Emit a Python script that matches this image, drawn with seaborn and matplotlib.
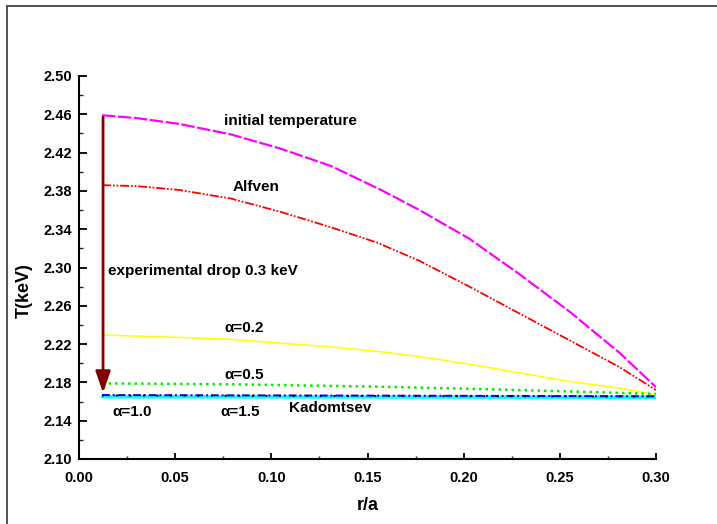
import numpy as np
import pandas as pd
import seaborn as sns
import matplotlib
matplotlib.use("Agg")
import matplotlib.pyplot as plt
from matplotlib.lines import Line2D
from matplotlib.ticker import MultipleLocator

# Radial temperature profiles after the sawtooth crash
r_init = [0.012, 0.030, 0.052, 0.079, 0.105, 0.131, 0.157, 0.177, 0.203, 0.229, 0.255, 0.281, 0.300]
t_init = [2.459, 2.456, 2.450, 2.439, 2.424, 2.406, 2.381, 2.360, 2.330, 2.293, 2.254, 2.211, 2.175]

r_alfven = [0.012, 0.030, 0.052, 0.079, 0.105, 0.131, 0.155, 0.177, 0.203, 0.229, 0.255, 0.281, 0.300]
t_alfven = [2.386, 2.385, 2.381, 2.372, 2.358, 2.342, 2.326, 2.307, 2.280, 2.252, 2.224, 2.196, 2.172]

r_a02 = [0.012, 0.052, 0.079, 0.105, 0.131, 0.157, 0.177, 0.203, 0.229, 0.255, 0.281, 0.300]
t_a02 = [2.2295, 2.227, 2.225, 2.221, 2.217, 2.212, 2.207, 2.199, 2.190, 2.181, 2.174, 2.167]

r_a05 = [0.012, 0.080, 0.157, 0.229, 0.300]
t_a05 = [2.179, 2.178, 2.1755, 2.172, 2.168]

r_a10 = [0.012, 0.150, 0.300]
t_a10 = [2.1668, 2.1662, 2.1655]

r_a15 = [0.012, 0.150, 0.300]
t_a15 = [2.1663, 2.1658, 2.1652]

r_kad = [0.012, 0.150, 0.300]
t_kad = [2.1650, 2.1648, 2.1645]

# Experimental drop indicator (start and end temperatures)
drop_r = 0.0125
drop_top = 2.457
drop_bottom = 2.169

x_ticks = [0.00, 0.05, 0.10, 0.15, 0.20, 0.25, 0.30]
y_ticks = [2.10, 2.14, 2.18, 2.22, 2.26, 2.30, 2.34, 2.38, 2.42, 2.46, 2.50]

sns.set_theme(style="white")
plt.rcParams["font.family"] = ["Liberation Sans", "DejaVu Sans"]
plt.rcParams["font.weight"] = "bold"

fig = plt.figure(figsize=(7.17, 5.24), dpi=100)
ax = fig.add_axes([79 / 717, 1 - 459 / 524, (656 - 79) / 717, (459 - 76) / 524])

series = [
    (r_init, t_init, "#FF00FF", (0, (6, 1.2)), 1.6),
    (r_alfven, t_alfven, "#FF0000", (0, (5, 1, 1, 1, 1, 1)), 1.3),
    (r_a02, t_a02, "#FFFF00", "-", 1.1),
    (r_a05, t_a05, "#00EE00", (0, (1, 1.6)), 1.8),
    (r_kad, t_kad, "#00FFFF", "-", 2.5),
    (r_a10, t_a10, "#0000FF", (0, (4, 1.5, 1, 1.5)), 1.4),
    (r_a15, t_a15, "#000000", (0, (1, 6)), 1.4),
]
for rr, tt, col, ls, lw in series:
    df = pd.DataFrame({"r": rr, "T": tt})
    sns.lineplot(data=df, x="r", y="T", ax=ax, color=col, linestyle=ls,
                 linewidth=lw, estimator=None, sort=False)

ax.annotate("", xy=(drop_r, drop_bottom), xytext=(drop_r, drop_top),
            arrowprops=dict(arrowstyle="-|>,head_width=0.45,head_length=1.3",
                            color="#800000", lw=2.0, mutation_scale=10,
                            shrinkA=0, shrinkB=0))

txt = dict(fontsize=11, fontweight="bold", color="black", va="center", ha="left")
ax.text(0.0754, 2.453, "initial temperature", **txt)
ax.text(0.0800, 2.384, "Alfven", **txt)
ax.text(0.0151, 2.296, "experimental drop 0.3 keV", **txt)
ax.text(0.0754, 2.237, "\u03b1=0.2", **txt)
ax.text(0.0754, 2.188, "\u03b1=0.5", **txt)
ax.text(0.0172, 2.149, "\u03b1=1.0", **txt)
ax.text(0.0733, 2.149, "\u03b1=1.5", **txt)
ax.text(0.1090, 2.153, "Kadomtsev", **txt)

ax.set_xlim(0.0, 0.30)
ax.set_ylim(2.10, 2.50)
ax.set_xticks(x_ticks)
ax.set_yticks(y_ticks)
ax.set_xticklabels([f"{v:.2f}" for v in x_ticks])
ax.set_yticklabels([f"{v:.2f}" for v in y_ticks])
ax.xaxis.set_minor_locator(MultipleLocator(0.025))
ax.yaxis.set_minor_locator(MultipleLocator(0.02))

for side in ["top", "right"]:
    ax.spines[side].set_visible(False)
for side in ["left", "bottom"]:
    ax.spines[side].set_color("black")
    ax.spines[side].set_linewidth(1.5)

ax.tick_params(axis="y", which="major", direction="in", length=5.8, width=1.3,
               labelsize=10.5, pad=5, colors="black", left=True)
ax.tick_params(axis="y", which="minor", direction="in", length=3, width=1.0, left=True)
ax.tick_params(axis="x", which="major", direction="in", length=4.5, width=1.3,
               labelsize=10.5, pad=8.5, colors="black", bottom=True)
ax.tick_params(axis="x", which="minor", direction="in", length=2.5, width=1.0, bottom=True)
for lab in ax.get_xticklabels() + ax.get_yticklabels():
    lab.set_fontweight("bold")

ax.set_xlabel("r/a", fontsize=13, fontweight="bold", color="black")
ax.set_ylabel("T(keV)", fontsize=13, fontweight="bold", color="black")
ax.xaxis.set_label_coords(0.5, -0.10)
ax.yaxis.set_label_coords(-0.081, 0.44)

# Outer frame lines along the top and left edges of the figure
fy = 1 - 5.5 / 524
fx = 7 / 717
fig.add_artist(Line2D([fx, 1.0], [fy, fy], transform=fig.transFigure, color="#444444", lw=1.3))
fig.add_artist(Line2D([fx, fx], [0.0, fy], transform=fig.transFigure, color="#444444", lw=1.3))

fig.savefig("out.png", dpi=100)
